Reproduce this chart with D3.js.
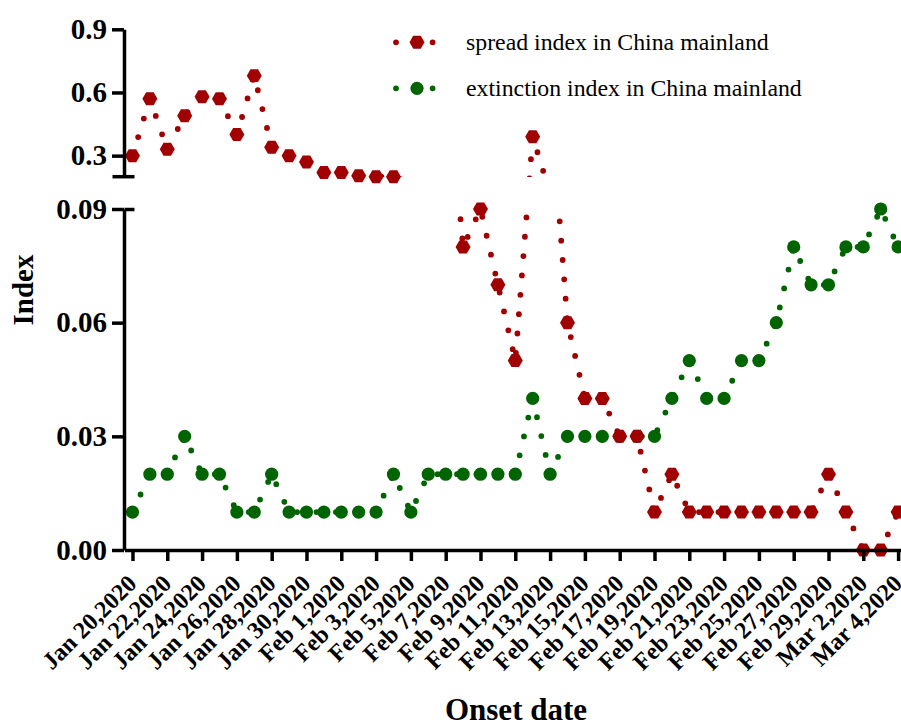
<!DOCTYPE html>
<html>
<head>
<meta charset="utf-8">
<script src="https://cdn.jsdelivr.net/npm/d3@7"></script>
<style>
  body { margin: 0; background: #fff; }
  svg { display: block; font-family: "Liberation Serif", "Times New Roman", serif; }
</style>
</head>
<body>
<div id="chart"></div>
<script>
// one value per onset day, Jan 20 2020 .. Mar 4 2020
const firstDay = new Date(2020, 0, 20);
const lastDay = new Date(2020, 2, 4);

// values between 0.09 and 0.2 fall in the axis break and are not drawn
const spreadIndex = [
  0.30, 0.57, 0.33, 0.49, 0.58, 0.57, 0.40, 0.68, 0.34, 0.30, 0.27, 0.22,
  0.22, 0.205, 0.20, 0.20, 0.17, 0.15, 0.13, 0.08, 0.09, 0.07, 0.05, 0.39, 0.12,
  0.06, 0.04, 0.04, 0.03, 0.03, 0.01, 0.02, 0.01, 0.01, 0.01, 0.01, 0.01, 0.01,
  0.01, 0.01, 0.02,
  0.01, 0.00, 0.00, 0.01
];
const extinctionIndex = [
  0.01, 0.02, 0.02, 0.03, 0.02, 0.02, 0.01, 0.01, 0.02, 0.01, 0.01, 0.01,
  0.01, 0.01, 0.01, 0.02, 0.01, 0.02, 0.02, 0.02, 0.02, 0.02, 0.02, 0.04, 0.02,
  0.03, 0.03, 0.03, 0.03, 0.03, 0.03, 0.04, 0.05, 0.04, 0.04, 0.05, 0.05, 0.06,
  0.08, 0.07, 0.07,
  0.08, 0.08, 0.09, 0.08
];
const seriesNames = ['spread index in China mainland', 'extinction index in China mainland'];
const xTickLabels = ['Jan 20,2020', 'Jan 22,2020', 'Jan 24,2020', 'Jan 26,2020', 'Jan 28,2020',
  'Jan 30,2020', 'Feb 1,2020', 'Feb 3,2020', 'Feb 5,2020', 'Feb 7,2020', 'Feb 9,2020',
  'Feb 11,2020', 'Feb 13,2020', 'Feb 15,2020', 'Feb 17,2020', 'Feb 19,2020', 'Feb 21,2020',
  'Feb 23,2020', 'Feb 25,2020', 'Feb 27,2020', 'Feb 29,2020', 'Mar 2,2020', 'Mar 4,2020'];
const upperTicks = [0.3, 0.6, 0.9];
const lowerTicks = [0, 0.03, 0.06, 0.09];
const upperDomain = [0.2, 0.9];
const lowerDomain = [0, 0.09];

const RED = '#a00000', GREEN = '#006400';

let days = d3.timeDay.range(firstDay, d3.timeDay.offset(lastDay, 1));
let tickDates = days.filter(function (d, i) { return i % 2 === 0; });

let width = 901, height = 724;
let svg = d3.select('#chart').append('svg')
    .attr('width', width)
    .attr('height', height);

let x = d3.scaleTime()
    .domain([d3.timeHour.offset(firstDay, -10.8), d3.timeHour.offset(lastDay, 4.8)])
    .range([124.5, 901]);
let yUp = d3.scaleLinear().domain(upperDomain).range([176.7, 29.3]);
let yLow = d3.scaleLinear().domain(lowerDomain).range([550, 209]);

function visible(v) {
    return v >= upperDomain[0] - 1e-9 || v <= lowerDomain[1] + 1e-9;
}
// points shown in some segment keep their real position, points in the break
// are placed with the segment's own scale (as Prism does)
function yFor(v, panel) {
    if (v >= upperDomain[0] - 1e-9) return yUp(v);
    if (v <= lowerDomain[1] + 1e-9) return yLow(v);
    return panel === 'up' ? yUp(v) : yLow(v);
}

let defs = svg.append('defs');
defs.append('clipPath').attr('id', 'clip-up')
    .append('rect').attr('x', 124.5).attr('y', 0).attr('width', 800).attr('height', 177);
defs.append('clipPath').attr('id', 'clip-low')
    .append('rect').attr('x', 124.5).attr('y', 209).attr('width', 800).attr('height', 520);

function hexagon(r) {
    let p = d3.path();
    for (let k = 0; k < 6; k++) {
        let a = k * Math.PI / 3;
        if (k === 0) p.moveTo(r * Math.cos(a), r * Math.sin(a));
        else p.lineTo(r * Math.cos(a), r * Math.sin(a));
    }
    p.closePath();
    return p.toString();
}
let hexPath = hexagon(7.5);
let dotR = 6.6;

function dotted(sel, color) {
    return sel.attr('fill', 'none')
        .attr('stroke', color)
        .attr('stroke-width', 5.8)
        .attr('stroke-linecap', 'round')
        .attr('stroke-dasharray', '0 19.4');
}

function drawSeries(values, color, shape) {
    let data = values.map(function (v, i) { return { date: days[i], v: v }; });
    let g = svg.append('g');
    ['up', 'low'].forEach(function (panel) {
        let line = d3.line()
            .x(function (d) { return x(d.date); })
            .y(function (d) { return yFor(d.v, panel); });
        dotted(g.append('path'), color)
            .attr('clip-path', 'url(#clip-' + panel + ')')
            .attr('d', line(data));
    });
    let pts = data.filter(function (d) { return visible(d.v); });
    if (shape === 'hex') {
        g.selectAll('path.mark').data(pts).enter().append('path')
            .attr('class', 'mark')
            .attr('d', hexPath)
            .attr('transform', function (d) { return 'translate(' + x(d.date) + ',' + yFor(d.v) + ')'; })
            .attr('fill', color);
    } else {
        g.selectAll('circle.mark').data(pts).enter().append('circle')
            .attr('class', 'mark')
            .attr('cx', function (d) { return x(d.date); })
            .attr('cy', function (d) { return yFor(d.v); })
            .attr('r', dotR)
            .attr('fill', color);
    }
}

drawSeries(extinctionIndex, GREEN, 'circle');
drawSeries(spreadIndex, RED, 'hex');

// axes
function styleAxis(g, size) {
    g.attr('font-family', null).attr('font-size', null);
    g.selectAll('path, line').attr('stroke', '#000').attr('stroke-width', 3.5);
    g.selectAll('text')
        .attr('fill', '#000')
        .style('font-size', size + 'px')
        .style('font-weight', 'bold');
}

let xAxis = d3.axisBottom(x)
    .tickValues(tickDates)
    .tickSize(11)
    .tickSizeOuter(0)
    .tickFormat(function (d, i) { return xTickLabels[i]; });
let gx = svg.append('g').attr('transform', 'translate(0,550)').call(xAxis);
styleAxis(gx, 24);
gx.selectAll('text')
    .attr('text-anchor', 'end')
    .attr('x', 0).attr('y', 0)
    .attr('dy', '0.35em')
    .attr('transform', 'translate(-1,29) rotate(-45)');

let gUp = svg.append('g').attr('transform', 'translate(124,0)')
    .call(d3.axisLeft(yUp).tickValues(upperTicks).tickSize(12).tickSizeOuter(0)
        .tickPadding(5).tickFormat(d3.format('.1f')));
styleAxis(gUp, 29);

let gLow = svg.append('g').attr('transform', 'translate(124,0)')
    .call(d3.axisLeft(yLow).tickValues(lowerTicks).tickSize(12).tickSizeOuter(0)
        .tickPadding(5).tickFormat(d3.format('.2f')));
styleAxis(gLow, 29);

// break marks at the ends of the two segments
svg.append('line')
    .attr('x1', 112.5).attr('x2', 134.5)
    .attr('y1', yUp(upperDomain[0])).attr('y2', yUp(upperDomain[0]))
    .attr('stroke', '#000').attr('stroke-width', 3.5);
svg.append('line')
    .attr('x1', 124.5).attr('x2', 134.5)
    .attr('y1', yLow(lowerDomain[1]) + 0.5).attr('y2', yLow(lowerDomain[1]) + 0.5)
    .attr('stroke', '#000').attr('stroke-width', 3.5);

// axis titles
svg.append('text')
    .attr('transform', 'translate(33,290) rotate(-90)')
    .attr('text-anchor', 'middle')
    .style('font-size', '29px').style('font-weight', 'bold')
    .text('Index');
svg.append('text')
    .attr('x', 516).attr('y', 720)
    .attr('text-anchor', 'middle')
    .style('font-size', '31px').style('font-weight', 'bold')
    .text('Onset date');

// legend
let legend = svg.append('g');
[[RED, 'hex'], [GREEN, 'circle']].forEach(function (s, i) {
    let ly = 42.3 + i * 46;
    dotted(legend.append('line'), s[0])
        .attr('x1', 396).attr('x2', 436).attr('y1', ly).attr('y2', ly)
        .attr('stroke-dasharray', '0 18.3');
    if (s[1] === 'hex') {
        legend.append('path').attr('d', hexPath)
            .attr('transform', 'translate(417,' + ly + ')').attr('fill', s[0]);
    } else {
        legend.append('circle').attr('cx', 417).attr('cy', ly).attr('r', dotR).attr('fill', s[0]);
    }
    legend.append('text')
        .attr('x', 466).attr('y', ly + 8)
        .style('font-size', '23.8px')
        .text(seriesNames[i]);
});
</script>
</body>
</html>
